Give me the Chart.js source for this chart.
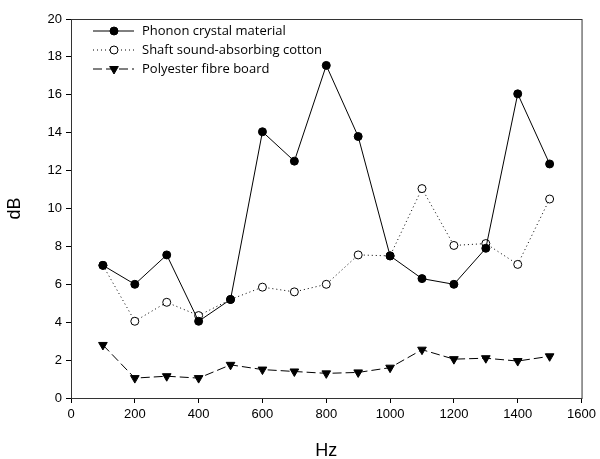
<!DOCTYPE html>
<html lang="en">
<head>
    <meta charset="UTF-8">
    <title>Sound insulation vs frequency</title>
    <script src="https://cdn.jsdelivr.net/npm/chart.js"></script>
    <style>
        * { margin: 0; padding: 0; box-sizing: border-box; }
        body { background: #fff; width: 600px; height: 459px; overflow: hidden; }
        #wrap { position: relative; width: 600px; height: 459px; }
    </style>
</head>
<body>
    <div id="wrap"><canvas id="myChart"></canvas></div>
    <script>
        // values
        const freqs = [100, 200, 300, 400, 500, 600, 700, 800, 900, 1000, 1100, 1200, 1300, 1400, 1500];
        const phonon = [7.0, 6.0, 7.55, 4.05, 5.2, 14.05, 12.5, 17.55, 13.8, 7.5, 6.3, 6.0, 7.9, 16.05, 12.35];
        const cotton = [7.0, 4.05, 5.05, 4.35, 5.2, 5.85, 5.6, 6.0, 7.55, 7.5, 11.05, 8.05, 8.15, 7.05, 10.5];
        const fibre = [2.8, 1.05, 1.15, 1.05, 1.75, 1.5, 1.4, 1.3, 1.35, 1.6, 2.55, 2.05, 2.1, 1.95, 2.2];
        const xTicks = [0, 200, 400, 600, 800, 1000, 1200, 1400, 1600];
        const yTicks = [0, 2, 4, 6, 8, 10, 12, 14, 16, 18, 20];

        const toXY = (ys) => ys.map((y, i) => ({ x: freqs[i], y: y }));
        const axisFont = '"Liberation Sans", Arial, sans-serif';

        // frame round the plot area + legend with line and marker
        const framePlugin = {
            id: 'frame',
            afterDraw(chart) {
                const ctx = chart.ctx;
                const a = chart.chartArea;
                ctx.save();
                ctx.strokeStyle = '#333';
                ctx.lineWidth = 1;
                ctx.strokeRect(a.left + 0.5, a.top + 0.5, a.right - a.left, a.bottom - a.top);

                ctx.font = '13px "Open Sans", sans-serif';
                ctx.textBaseline = 'middle';
                chart.data.datasets.forEach((ds, i) => {
                    const y = 31 + i * 19;
                    ctx.beginPath();
                    ctx.setLineDash(ds.borderDash || []);
                    ctx.strokeStyle = '#000';
                    ctx.lineWidth = 1;
                    ctx.moveTo(93, y);
                    ctx.lineTo(134, y);
                    ctx.stroke();
                    ctx.setLineDash([]);
                    ctx.fillStyle = ds.pointBackgroundColor;
                    ctx.strokeStyle = '#000';
                    Chart.helpers.drawPoint(ctx, {
                        pointStyle: ds.pointStyle,
                        radius: ds.pointRadius,
                        rotation: ds.pointRotation || 0,
                        borderWidth: 1
                    }, 114, y);
                    ctx.fillStyle = '#000';
                    ctx.fillText(ds.label, 142, y);
                });
                ctx.restore();
            }
        };

        const ctx = document.getElementById('myChart').getContext('2d');
        new Chart(ctx, {
            type: 'line',
            data: {
                datasets: [
                    {
                        label: 'Phonon crystal material',
                        data: toXY(phonon),
                        borderColor: '#000',
                        borderWidth: 1,
                        pointStyle: 'circle',
                        pointRadius: 4,
                        pointBackgroundColor: '#000',
                        pointBorderColor: '#000'
                    },
                    {
                        label: 'Shaft sound-absorbing cotton',
                        data: toXY(cotton),
                        borderColor: '#000',
                        borderWidth: 1,
                        borderDash: [1, 3],
                        pointStyle: 'circle',
                        pointRadius: 4,
                        pointBackgroundColor: '#fff',
                        pointBorderColor: '#000'
                    },
                    {
                        label: 'Polyester fibre board',
                        data: toXY(fibre),
                        borderColor: '#000',
                        borderWidth: 1,
                        borderDash: [9, 4],
                        pointStyle: 'triangle',
                        pointRotation: 180,
                        pointRadius: 5,
                        pointBackgroundColor: '#000',
                        pointBorderColor: '#000'
                    }
                ]
            },
            options: {
                responsive: true,
                maintainAspectRatio: false,
                animation: false,
                layout: { padding: { left: 0, right: 14, top: 19, bottom: 0 } },
                scales: {
                    x: {
                        type: 'linear',
                        min: 0,
                        max: 1600,
                        afterBuildTicks: (axis) => { axis.ticks = xTicks.map(v => ({ value: v })); },
                        afterFit: (axis) => { axis.height = 61; },
                        title: {
                            display: true,
                            text: 'Hz',
                            color: '#000',
                            font: { family: axisFont, size: 18 },
                            padding: { top: 0, bottom: -3 }
                        },
                        grid: { display: true, drawOnChartArea: false, drawTicks: true, tickLength: 5, color: '#000' },
                        border: { display: true, color: '#000' },
                        ticks: {
                            color: '#000',
                            font: { family: axisFont, size: 13 },
                            padding: 4,
                            callback: (v) => String(v)
                        }
                    },
                    y: {
                        min: 0,
                        max: 20,
                        afterBuildTicks: (axis) => { axis.ticks = yTicks.map(v => ({ value: v })); },
                        afterFit: (axis) => { axis.width = 71; },
                        title: {
                            display: true,
                            text: 'dB',
                            color: '#000',
                            font: { family: axisFont, size: 18 },
                            padding: { bottom: 6 }
                        },
                        grid: { display: true, drawOnChartArea: false, drawTicks: true, tickLength: 5, color: '#000' },
                        border: { display: true, color: '#000' },
                        ticks: {
                            color: '#000',
                            font: { family: axisFont, size: 13 },
                            padding: 4,
                            callback: (v) => String(v)
                        }
                    }
                },
                plugins: {
                    legend: { display: false },
                    tooltip: { enabled: false }
                }
            },
            plugins: [framePlugin]
        });
    </script>
</body>
</html>
